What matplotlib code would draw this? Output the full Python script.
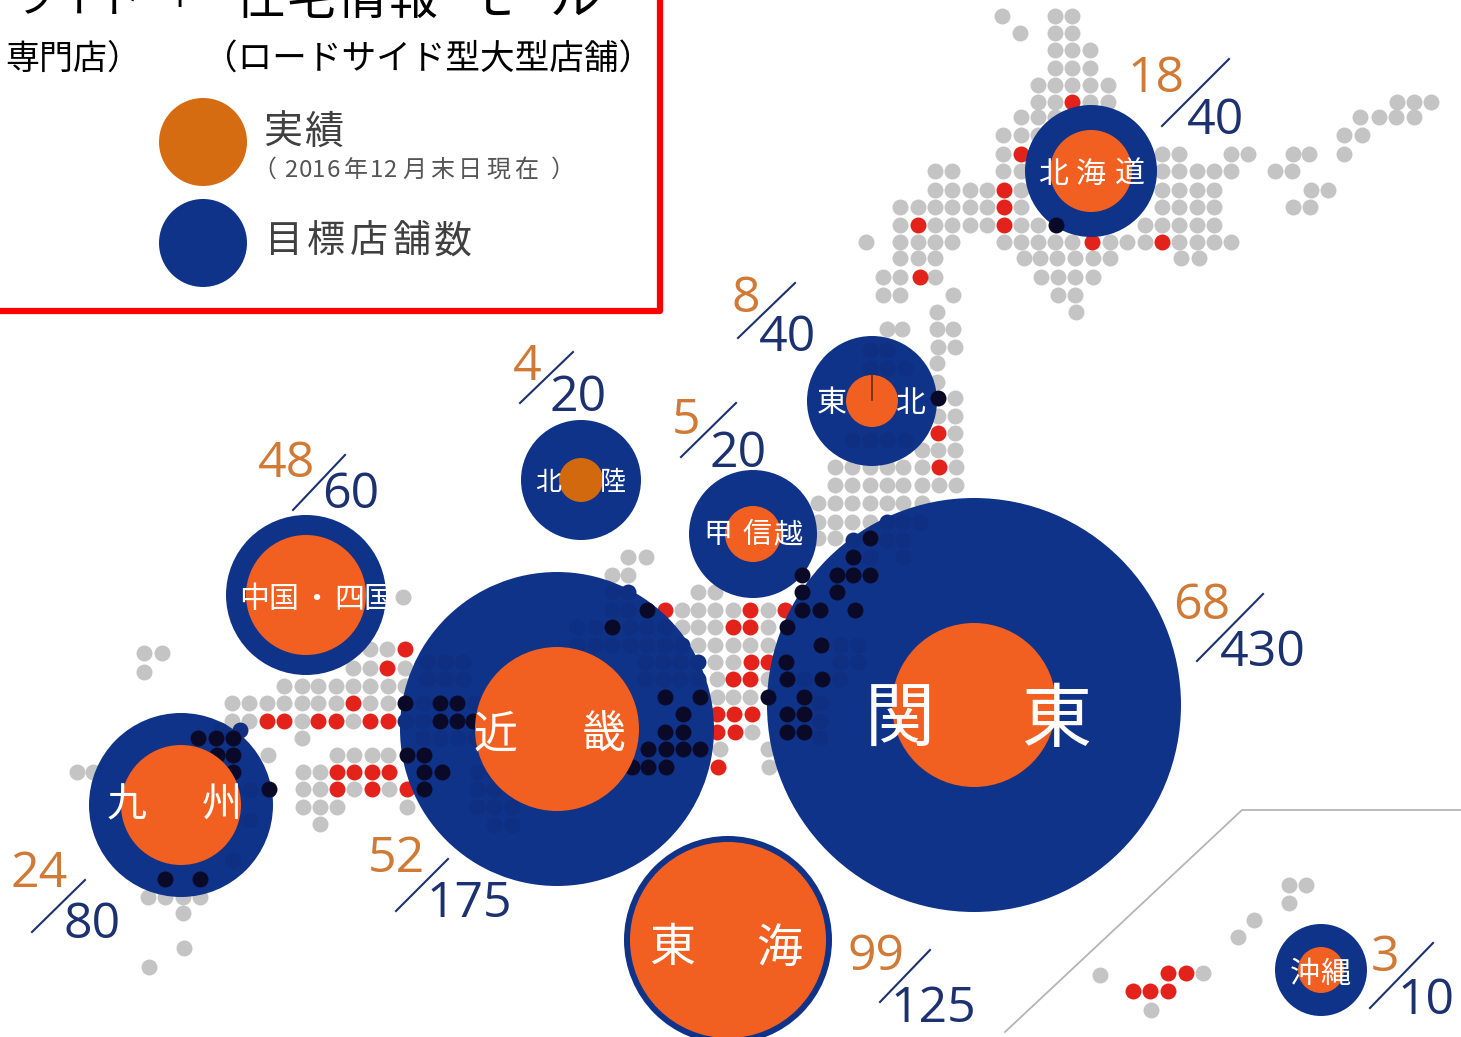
import matplotlib
matplotlib.use('Agg')
import matplotlib.pyplot as plt
from matplotlib.patches import Circle

plt.rcParams['font.family'] = ['Noto Sans CJK JP', 'DejaVu Sans']

# regions: actual stores / target stores
regions = ['北海道', '東北', '北陸', '甲信越', '関東', '近畿', '東海', '中国・四国', '九州', '沖縄']
actuals = [18, 8, 4, 5, 68, 52, 99, 48, 24, 3]
targets = [40, 40, 20, 20, 430, 175, 125, 60, 80, 10]

# bubble centres and radii
bubble_x = [1091, 872, 581, 753, 974, 557, 728, 306, 181, 1321]
bubble_y = [171, 401, 480, 534, 705, 729, 940, 595, 805, 970]
target_r = [66, 65, 60, 64, 207, 157, 104, 80, 92, 46]
actual_r = [41, 26, 22, 28, 82, 82, 98, 60, 60, 23]
actual_col = ['#f26021', '#f26021', '#d2690f', '#f26021', '#f26021',
              '#f26021', '#f26021', '#f26021', '#f26021', '#f26021']

# region name, one entry per character: (char, x)
label_y = [172, 401, 481, 533, 716, 731, 945, 597, 803, 972]
label_size = [30, 30, 26, 29, 70, 44, 46, 30, 40, 30]
label_chars = [
    [('北', 1053), ('海', 1091), ('道', 1130)],
    [('東', 832), ('北', 910)],
    [('北', 548), ('陸', 613)],
    [('甲', 718), ('信', 757), ('越', 788)],
    [('関', 900), ('東', 1056)],
    [('近', 495), ('畿', 604)],
    [('東', 672), ('海', 779)],
    [('中', 254), ('国', 283), ('・', 316), ('四', 349), ('国', 378)],
    [('九', 127), ('州', 222)],
    [('沖', 1305), ('縄', 1335)],
]

# fraction labels next to each bubble
num_xy = [(1156, 76), (746, 296), (527, 364), (686, 418), (1202, 603),
          (396, 856), (876, 954), (287, 461), (39, 871), (1385, 955)]
den_xy = [(1215, 118), (787, 335), (578, 395), (738, 451), (1263, 650),
          (469, 901), (933, 1006), (351, 492), (92, 922), (1426, 998)]
slash_xy = [(1162, 126, 1229, 59), (738, 338, 795, 283), (520, 403, 573, 352),
            (681, 457, 736, 403), (1197, 661, 1263, 594), (396, 911, 448, 859),
            (880, 1002, 930, 950), (293, 510, 345, 455), (32, 932, 85, 880),
            (1370, 1008, 1433, 943)]

# dot map of Japan, rows of (y, [x, ...])
gray_rows = [
    (16, [1002, 1055, 1072]), (33, [1020, 1055, 1072]), (50, [1055, 1072, 1090]),
    (68, [1055, 1072, 1090]), (85, [1038, 1055, 1072, 1090, 1108]),
    (102, [1038, 1055, 1090, 1108, 1397, 1414, 1431]),
    (117, [1021, 1038, 1055, 1360, 1379, 1396, 1414]),
    (135, [1003, 1021, 1038, 1344, 1362]),
    (154, [1003, 1038, 1162, 1179, 1231, 1248, 1293, 1309, 1344]),
    (171, [935, 952, 1003, 1021, 1162, 1179, 1197, 1214, 1231, 1275, 1292]),
    (190, [935, 952, 970, 987, 1021, 1162, 1179, 1197, 1214, 1311, 1328]),
    (207, [900, 918, 935, 952, 970, 987, 1021, 1162, 1179, 1197, 1214, 1293, 1310]),
    (225, [900, 935, 952, 970, 987, 1021, 1038, 1145, 1162, 1179, 1197, 1214]),
    (242, [866, 900, 918, 935, 952, 1004, 1021, 1038, 1055, 1072, 1110, 1127, 1145,
           1179, 1197, 1214, 1231]),
    (258, [900, 918, 935, 1024, 1040, 1057, 1075, 1093, 1110, 1181, 1199]),
    (277, [883, 900, 935, 1041, 1058, 1075, 1093]),
    (295, [883, 900, 953, 1058, 1075]), (312, [937, 1076]),
    (329, [887, 902, 937, 953]), (347, [938, 955]), (363, [937]), (382, [937]),
    (398, [955]), (416, [938, 955]), (433, [955]), (450, [922, 938, 955]),
    (467, [835, 852, 870, 887, 903, 922, 956]),
    (485, [835, 852, 870, 887, 903, 922, 939, 956]),
    (503, [818, 835, 852, 870, 887, 903, 922]),
    (522, [818, 835, 852, 870]), (538, [818, 835]),
    (557, [628, 646]), (575, [612, 628]), (592, [698, 715]),
    (597, [403]),
    (610, [682, 698, 715, 733, 768]), (627, [682, 698, 715, 768]),
    (645, [698, 715, 733, 750, 768]), (649, [370, 387]), (653, [144, 162]),
    (662, [715, 733]), (668, [353, 370, 405]), (672, [144]),
    (679, [717, 768]), (686, [284, 302, 318, 336, 353, 370, 388, 405]),
    (697, [717, 733, 750]), (703, [232, 249, 267, 284, 302, 318, 336, 370, 388]),
    (721, [232, 249, 302, 353]), (732, [752]), (738, [302]),
    (749, [720, 768]), (755, [268, 337, 354, 372, 388]),
    (767, [769]), (772, [77, 93, 303, 320]),
    (789, [303, 320, 354, 389]), (807, [303, 320, 337, 407]), (824, [320]),
    (885, [1289, 1306]), (897, [148, 165, 183, 200]), (903, [1289]),
    (913, [183]), (920, [1254]), (937, [1238]), (948, [184]), (967, [149]),
    (973, [1203]), (975, [1100]), (1010, [1151]),
]
red_rows = [
    (102, [1072]), (154, [1021]), (190, [1004]), (207, [1004]), (225, [918, 1004]),
    (242, [1092, 1162]), (277, [920]), (433, [938]), (467, [939]),
    (610, [665, 750, 785]), (627, [733, 750]), (649, [405]), (662, [751, 768]),
    (668, [387]), (679, [733, 750]), (703, [353]),
    (714, [717, 734, 752]), (721, [267, 284, 318, 336, 370, 388]),
    (732, [717, 735]), (767, [718]), (772, [337, 354, 372, 389]),
    (789, [337, 372, 407]), (973, [1168, 1186]), (991, [1133, 1150, 1168]),
]
black_rows = [
    (225, [1056]), (398, [938]), (538, [870]), (557, [853]),
    (575, [802, 837, 853, 870]), (592, [802, 837]),
    (610, [647, 802, 820, 855]), (627, [612, 787]), (645, [821]),
    (662, [786]), (679, [787, 822]), (697, [665, 700, 768, 804]),
    (703, [405, 440, 457]), (714, [683, 787, 804]), (721, [440, 457, 473]),
    (732, [665, 683, 787, 804]), (738, [198, 216, 233]),
    (749, [648, 666, 683, 700]), (755, [217, 233, 407, 424]),
    (767, [632, 648, 666]), (772, [233, 424, 442]), (789, [269, 424]),
    (879, [165, 200]),
]
faint_rows = [
    (592, [612, 628]), (610, [612, 628]), (627, [577, 595, 630, 647, 665]),
    (645, [577, 595, 612, 630, 647, 665, 682, 840, 858]),
    (662, [427, 445, 463, 645, 663, 680, 698, 840, 858]),
    (679, [427, 445, 463, 645, 663, 680, 698, 804, 840]),
    (703, [423, 475, 820]), (721, [405, 423, 820]),
    (738, [423, 440, 458, 475, 820]), (772, [477, 494]), (789, [477, 494, 512]),
    (807, [477, 494, 512]), (825, [494, 512]), (522, [887, 903, 920]),
    (540, [853, 887, 903]), (557, [870, 903]), (730, [220, 240]),
    (350, [870, 887]), (368, [870, 887, 905]), (440, [852, 870, 887, 905]),
    (790, [233, 250, 268]), (820, [233, 250]), (860, [233]),
]

# legend note, one entry per glyph
note_chars = ['（', '2', '0', '1', '6', '年', '1', '2', '月', '末', '日', '現', '在', '）']
note_x = [264, 291, 305, 319, 333, 356, 376, 390, 414, 442, 470, 498, 526, 563]

fig = plt.figure(figsize=(14.61, 10.37), dpi=100)
ax = fig.add_axes([0, 0, 1, 1])
ax.set_xlim(0, 1461)
ax.set_ylim(1037, 0)
ax.axis('off')


def px(n):
    return n * 0.72


def draw_dots(rows, color, zorder):
    xs = [x for y, row in rows for x in row]
    ys = [y for y, row in rows for x in row]
    ax.scatter(xs, ys, s=132, c=color, linewidths=0, zorder=zorder)


def jp_text(x, y, s, size, color, **kw):
    # CJK glyphs sit a little high with va='center'
    ax.text(x, y + size * 0.07, s, color=color, fontsize=px(size),
            ha=kw.pop('ha', 'center'), va='center', **kw)


# inset frame for Okinawa
ax.plot([1005, 1242, 1461], [1032, 810, 810], color='#b5b5b5', lw=1.3, zorder=1)

draw_dots(gray_rows, '#c4c4c4', 2)
draw_dots(red_rows, '#e3231b', 3)

for i in range(len(regions)):
    ax.add_patch(Circle((bubble_x[i], bubble_y[i]), target_r[i], fc='#0f3389', ec='none', zorder=4))

draw_dots(faint_rows, '#0e2f82', 5)
draw_dots(black_rows, '#0a0a28', 6)

for i in range(len(regions)):
    ax.add_patch(Circle((bubble_x[i], bubble_y[i]), actual_r[i], fc=actual_col[i], ec='none', zorder=7))
    for ch, x in label_chars[i]:
        jp_text(x, label_y[i], ch, label_size[i], 'white', zorder=8)

    ax.text(num_xy[i][0], num_xy[i][1] + 3, str(actuals[i]), color='#d07a35', fontsize=px(50),
            family='Open Sans', ha='center', va='center', zorder=8)
    ax.text(den_xy[i][0], den_xy[i][1] + 3, str(targets[i]), color='#1c3170', fontsize=px(50),
            family='Open Sans', ha='center', va='center', zorder=8)
    s = slash_xy[i]
    ax.plot([s[0], s[2]], [s[1], s[3]], color='#1c3170', lw=1.5, zorder=8)

# tick inside the 東北 bubble
ax.plot([872, 872], [375, 400], color='#6b2a10', lw=1.2, zorder=8)

# legend box, cut off by the top and left of the image
ax.plot([0, 660, 660], [311, 311, 0], color='#ff0000', lw=4.5, solid_joinstyle='round', zorder=9)

jp_text(78, -4, 'ライド', 44, 'black', zorder=9)
jp_text(180, -2, '+', 40, 'black', zorder=9)
for ch, x in zip('住宅情報モール', [260, 311, 362, 413, 490, 532, 575]):
    jp_text(x, -4, ch, 50, 'black', zorder=9)
jp_text(141, 57, '専門店）', 34, 'black', ha='right', zorder=9)
jp_text(428, 57, '（ロードサイド型大型店舗）', 34.6, 'black', zorder=9)

ax.add_patch(Circle((203, 142), 44, fc='#d66c11', ec='none', zorder=9))
ax.add_patch(Circle((203, 243), 44, fc='#0f3389', ec='none', zorder=9))
for ch, x in zip('実績', [283, 324]):
    jp_text(x, 130, ch, 39, '#404040', zorder=9)
for ch, x in zip(note_chars, note_x):
    jp_text(x, 169, ch, 24, '#555555', zorder=9)
for ch, x in zip('目標店舗数', [284, 326, 369, 411, 453]):
    jp_text(x, 239, ch, 38, '#404040', zorder=9)

plt.savefig('out.png', dpi=100, facecolor='white')
plt.close()
